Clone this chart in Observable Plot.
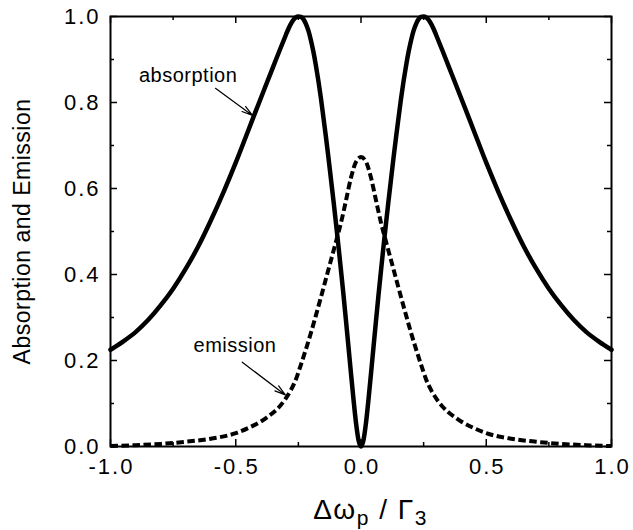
<!DOCTYPE html>
<html><head><meta charset="utf-8">
<script src="https://cdn.jsdelivr.net/npm/d3@7"></script>
<script src="https://cdn.jsdelivr.net/npm/@observablehq/plot@0.6"></script>
<style>
body{margin:0;background:#fff}
g[aria-label$="tick label"] text{letter-spacing:2px}
g[aria-label="text"] text{letter-spacing:0.5px}
</style>
</head><body><div id="chart"></div>
<script>
// Absorption (solid)
const absorptionX = [-1.0,-0.95,-0.9,-0.85,-0.8,-0.75,-0.7,-0.65,-0.6,-0.55,-0.5,-0.45,-0.4,-0.375,-0.35,-0.325,-0.3,-0.29,-0.28,-0.27,-0.26,-0.25,
  -0.24,-0.23,-0.22,-0.21,-0.2,-0.19,-0.18,-0.17,-0.16,-0.15,-0.14,-0.13,-0.12,-0.11,-0.1,-0.09,-0.08,-0.07,-0.06,-0.05,-0.04,-0.03,-0.02,-0.01,0.0,
  0.01,0.02,0.03,0.04,0.05,0.06,0.07,0.08,0.09,0.1,0.11,0.12,0.13,0.14,0.15,0.16,0.17,0.18,0.19,0.2,0.21,0.22,0.23,0.24,
  0.25,0.26,0.27,0.28,0.29,0.3,0.325,0.35,0.375,0.4,0.45,0.5,0.55,0.6,0.65,0.7,0.75,0.8,0.85,0.9,0.95,1.0];
const absorptionY = [0.225,0.244,0.266,0.294,0.328,0.367,0.413,0.465,0.525,0.59,0.66,0.735,0.81,0.847,0.884,0.921,0.957,0.971,0.983,0.992,0.998,1.0,
  0.999,0.994,0.983,0.967,0.945,0.918,0.886,0.85,0.81,0.765,0.72,0.672,0.622,0.572,0.52,0.466,0.41,0.353,0.293,0.232,0.17,0.11,0.055,0.015,0.0,
  0.015,0.055,0.11,0.17,0.232,0.293,0.353,0.41,0.466,0.52,0.572,0.622,0.672,0.72,0.765,0.81,0.85,0.886,0.918,0.945,0.967,0.983,0.994,0.999,
  1.0,0.998,0.992,0.983,0.971,0.957,0.921,0.884,0.847,0.81,0.735,0.66,0.59,0.525,0.465,0.413,0.367,0.328,0.294,0.266,0.244,0.225];
// Emission (dashed)
const emissionX = [-1.0,-0.9,-0.8,-0.7,-0.6,-0.5,-0.45,-0.4,-0.375,-0.35,-0.325,-0.3,-0.28,-0.26,-0.24,-0.22,-0.2,-0.18,-0.16,-0.14,-0.12,-0.1,-0.08,-0.06,-0.04,-0.02,0.0,
  0.02,0.04,0.06,0.08,0.1,0.12,0.14,0.16,0.18,0.2,0.22,0.24,0.26,0.28,0.3,0.325,0.35,0.375,0.4,0.45,0.5,0.6,0.7,0.8,0.9,1.0];
const emissionY = [0.001,0.003,0.006,0.011,0.018,0.031,0.043,0.058,0.068,0.079,0.093,0.112,0.131,0.156,0.19,0.226,0.264,0.305,0.347,0.39,0.433,0.476,0.52,0.572,0.625,0.662,0.673,
  0.662,0.625,0.572,0.52,0.476,0.433,0.39,0.347,0.305,0.264,0.226,0.19,0.156,0.131,0.112,0.093,0.079,0.068,0.058,0.043,0.031,0.018,0.011,0.006,0.003,0.001];

const xTicks = [-1.0, -0.5, 0.0, 0.5, 1.0];
const xMinorTicks = [-0.75, -0.25, 0.25, 0.75];
const yTicks = [0.0, 0.2, 0.4, 0.6, 0.8, 1.0];
const yMinorTicks = [0.1, 0.3, 0.5, 0.7, 0.9];
const yLabel = "Absorption and Emission";

const noteLabels = ["absorption", "emission"];
const noteTextX = [-0.69, -0.503];
const noteTextY = [0.863, 0.235];
const noteFromX = [-0.581, -0.474];
const noteFromY = [0.833, 0.196];
const noteToX = [-0.433, -0.302];
const noteToY = [0.77, 0.12];

const absorption = absorptionX.map((x, i) => ({x, y: absorptionY[i]}));
const emission = emissionX.map((x, i) => ({x, y: emissionY[i]}));
const notes = noteLabels.map((label, i) => ({label, tx: noteTextX[i], ty: noteTextY[i], x1: noteFromX[i], y1: noteFromY[i], x2: noteToX[i], y2: noteToY[i]}));

const W = 633, H = 530, mL = 110, mR = 22, mT = 16, mB = 84;
const iW = W - mL - mR, iH = H - mT - mB;
const major = 7, minor = 4;
const font = "'Liberation Sans', Arial, Helvetica, sans-serif";

const chart = Plot.plot({
  width: W, height: H,
  marginLeft: mL, marginRight: mR, marginTop: mT, marginBottom: mB,
  x: {domain: [-1, 1]},
  y: {domain: [0, 1]},
  style: {fontFamily: font, color: "black", background: "white"},
  marks: [
    Plot.line(emission, {x: "x", y: "y", curve: "monotone-x", stroke: "black", strokeWidth: 4, strokeDasharray: "7.5,3.5", strokeLinecap: "butt"}),
    Plot.line(absorption, {x: "x", y: "y", curve: "monotone-x", stroke: "black", strokeWidth: 4.5}),
    Plot.frame({stroke: "black", strokeWidth: 2}),
    Plot.ruleX(xTicks, {x: d => d, insetTop: iH - major, strokeWidth: 1.5}),
    Plot.ruleX(xTicks, {x: d => d, insetBottom: iH - major, strokeWidth: 1.5}),
    Plot.ruleX(xMinorTicks, {x: d => d, insetTop: iH - minor, strokeWidth: 1.5}),
    Plot.ruleX(xMinorTicks, {x: d => d, insetBottom: iH - minor, strokeWidth: 1.5}),
    Plot.ruleY(yTicks, {y: d => d, insetRight: iW - major, strokeWidth: 1.5}),
    Plot.ruleY(yTicks, {y: d => d, insetLeft: iW - major, strokeWidth: 1.5}),
    Plot.ruleY(yMinorTicks, {y: d => d, insetRight: iW - minor, strokeWidth: 1.5}),
    Plot.ruleY(yMinorTicks, {y: d => d, insetLeft: iW - minor, strokeWidth: 1.5}),
    Plot.axisX(xTicks, {tickSize: 0, tickPadding: 12, tickFormat: d => d.toFixed(1), fontSize: 22, label: null, dx: 1}),
    Plot.axisY(yTicks, {tickSize: 0, tickPadding: 10, tickFormat: d => d.toFixed(1), fontSize: 22, label: null}),
    Plot.text([yLabel], {text: d => d, frameAnchor: "left", textAnchor: "middle", rotate: -90, dx: -88, fontSize: 23}),
    Plot.arrow(notes, {x1: "x1", y1: "y1", x2: "x2", y2: "y2", headAngle: 32, headLength: 14, strokeWidth: 1.2, stroke: "black"}),
    Plot.text(notes, {x: "tx", y: "ty", text: "label", fontSize: 20})
  ]
});

// x-axis title with subscripts
const svg = d3.select(chart);
const t = svg.append("text")
  .attr("x", mL + iW / 2 + 10).attr("y", 519)
  .attr("text-anchor", "middle")
  .attr("font-family", font).attr("font-size", 28).attr("letter-spacing", "1.5px").attr("fill", "black");
t.append("tspan").text("Δω");
t.append("tspan").attr("dy", 6).attr("font-size", 21).text("p");
t.append("tspan").attr("dy", -6).text(" / Γ");
t.append("tspan").attr("dy", 6).attr("font-size", 21).text("3");

document.getElementById("chart").append(chart);
</script>
</body></html>
